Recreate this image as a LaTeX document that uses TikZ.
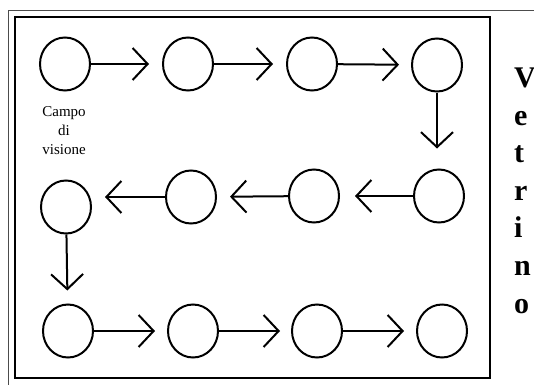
\documentclass[tikz,border=0pt]{standalone}
\usepackage{fontspec}
\setmainfont{Liberation Serif}
\usetikzlibrary{shapes.geometric, arrows.meta, positioning}

\begin{document}
\begin{tikzpicture}[
    x=1pt, y=-1pt,
    cell/.style={ellipse, draw, line width=2pt, minimum width=50pt, minimum height=53pt, inner sep=0pt},
    arrow/.style={-{Straight Barb[length=15pt, width=32pt]}, line width=2pt, shorten >=13pt}
]
    \useasboundingbox (0,0) rectangle (534,385);

    % frames
    \draw[line width=1pt, black!70] (534,11) -- (8,11) -- (8,385);
    \draw[line width=2pt] (15,17) rectangle (490,378);

    % first row
    \node[cell] (top1) at (65,64) {};
    \node[cell] (top2) at (188,64) {};
    \node[cell] (top3) at (312,64) {};
    \node[cell] (top4) at (437,65) {};
    % second row
    \node[cell] (mid1) at (66,207) {};
    \node[cell] (mid2) at (191,197) {};
    \node[cell] (mid3) at (314,196) {};
    \node[cell] (mid4) at (439,196) {};
    % third row
    \node[cell] (bot1) at (68,331) {};
    \node[cell] (bot2) at (193,331) {};
    \node[cell] (bot3) at (317,331) {};
    \node[cell] (bot4) at (442,331) {};

    \node[align=center, font=\fontsize{15}{19}\selectfont, anchor=base, inner sep=0pt] (campo) at (64,154) {Campo\\di\\visione};
    \node[align=left, font=\bfseries\fontsize{30}{37.6}\selectfont, anchor=base west, inner sep=0pt] (vetrino) at (514,313) {V\\e\\t\\r\\i\\n\\o};

    \draw[arrow] (top1) -- (top2);
    \draw[arrow] (top2) -- (top3);
    \draw[arrow, shorten >=12pt] (top3) -- (top4);
    \draw[arrow, shorten >=20pt] (top4) -- (top4 |- mid4.north);
    \draw[arrow, shorten >=15pt] (mid4) -- (mid3);
    \draw[arrow] (mid3) -- (mid2);
    \draw[arrow] (mid2.west) -- (mid2.west -| mid1.east);
    \draw[arrow] (mid1) -- (bot1);
    \draw[arrow, shorten >=12pt] (bot1) -- (bot2);
    \draw[arrow, shorten >=11pt] (bot2) -- (bot3);
    \draw[arrow, shorten >=12pt] (bot3) -- (bot4);
\end{tikzpicture}
\end{document}
